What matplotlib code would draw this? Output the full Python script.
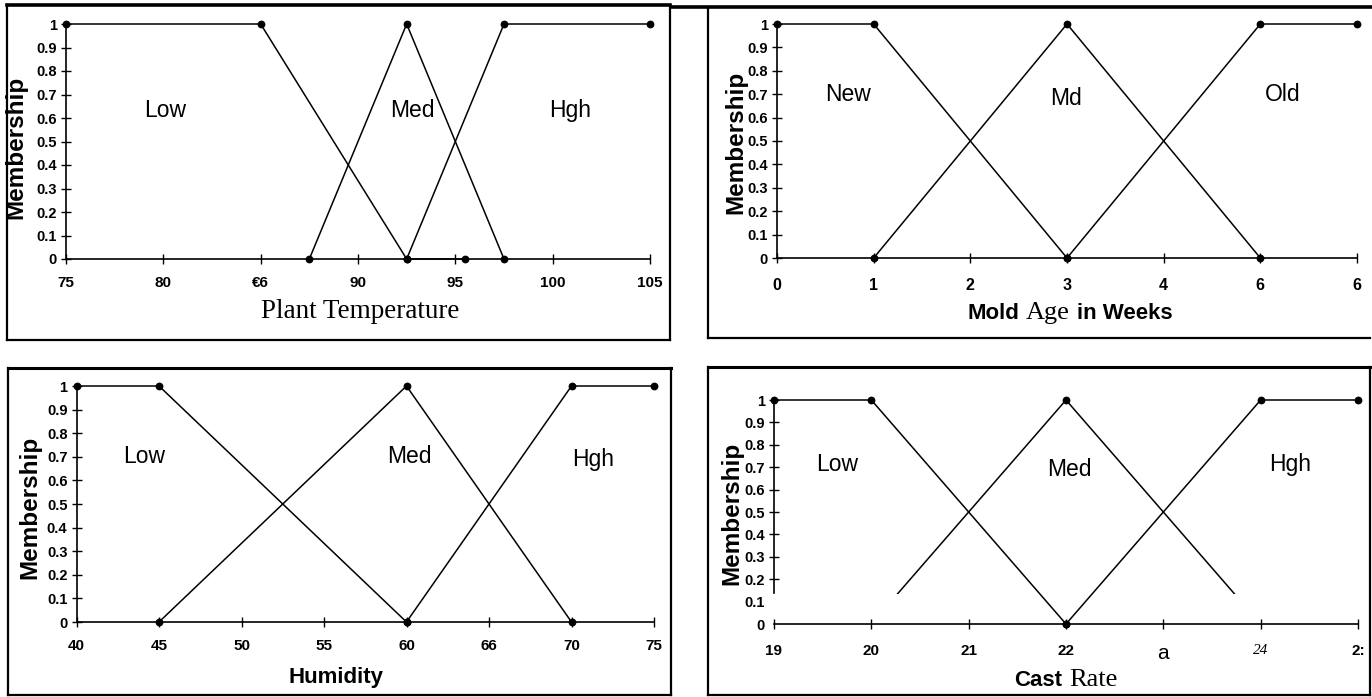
import matplotlib
matplotlib.use("Agg")
import matplotlib.pyplot as plt
from matplotlib.patches import Rectangle
from matplotlib.lines import Line2D
from matplotlib.offsetbox import TextArea, HPacker, AnnotationBbox

W, H = 1372, 697

# data ###############################################################
memb_ticks = [0, 0.1, 0.2, 0.3, 0.4, 0.5, 0.6, 0.7, 0.8, 0.9, 1]
memb_labels = ['0', '0.1', '0.2', '0.3', '0.4', '0.5', '0.6', '0.7', '0.8', '0.9', '1']

# plant temperature
temp_ticks = [75, 80, 85, 90, 95, 100, 105]
temp_ticklabels = ['75', '80', '€6', '90', '95', '100', '105']
temp_low_x = [75, 85, 92.5, 95.5]
temp_low_y = [1, 1, 0, 0]
temp_med_x = [87.5, 92.5, 97.5]
temp_med_y = [0, 1, 0]
temp_high_x = [92.5, 97.5, 105]
temp_high_y = [0, 1, 1]
temp_names = ['Low', 'Med', 'Hgh']

# mold age
age_ticks = [0, 1, 2, 3, 4, 5, 6]
age_ticklabels = ['0', '1', '2', '3', '4', '6', '6']
age_new_x = [0, 1, 3]
age_new_y = [1, 1, 0]
age_mid_x = [1, 3, 5]
age_mid_y = [0, 1, 0]
age_old_x = [3, 5, 6]
age_old_y = [0, 1, 1]
age_names = ['New', 'Md', 'Old']

# humidity
hum_ticks = [40, 45, 50, 55, 60, 65, 70, 75]
hum_ticklabels = ['40', '45', '50', '55', '60', '66', '70', '75']
hum_low_x = [40, 45, 60]
hum_low_y = [1, 1, 0]
hum_med_x = [45, 60, 70]
hum_med_y = [0, 1, 0]
hum_high_x = [60, 70, 75]
hum_high_y = [0, 1, 1]
hum_names = ['Low', 'Med', 'Hgh']

# cast rate
cast_ticks = [19, 20, 21, 22, 23, 24, 25]
cast_ticklabels = ['19', '20', '21', '22', 'a', '24', '2:']
cast_low_x = [19, 20, 22]
cast_low_y = [1, 1, 0]
cast_med_x = [20, 22, 24]
cast_med_y = [0, 1, 0]
cast_high_x = [22, 24, 25]
cast_high_y = [0, 1, 1]
cast_names = ['Low', 'Med', 'Hgh']

NARROW = ['Liberation Sans Narrow', 'Liberation Sans', 'DejaVu Sans']
SANS = ['Liberation Sans', 'DejaVu Sans']
SERIF = ['Liberation Serif', 'DejaVu Serif']


def px_rect(l, t, r, b):
    return [l / W, 1 - b / H, (r - l) / W, (b - t) / H]


def fxy(x, y):
    return (x / W, 1 - y / H)


fig = plt.figure(figsize=(W / 100, H / 100), dpi=100)
fig.patch.set_facecolor('white')


def panel(rect, xlim, ticks, ticklabels, series, names, name_x, name_y,
          tickfam=NARROW, ticksize=11):
    ax = fig.add_axes(px_rect(*rect))
    lines = []
    for xs, ys in series:
        ln, = ax.plot(xs, ys, color='black', lw=1.1, marker='o', ms=4.6,
                      clip_on=False, zorder=3)
        lines.append(ln)
    ax.set_xlim(*xlim)
    ax.set_ylim(0, 1)
    ax.set_xticks(ticks)
    ax.set_xticklabels(ticklabels, family=tickfam, weight='bold', fontsize=ticksize)
    ax.set_yticks(memb_ticks)
    ax.set_yticklabels(memb_labels, family=NARROW, weight='bold', fontsize=10.5)
    ax.spines['top'].set_visible(False)
    ax.spines['right'].set_visible(False)
    for s in ['left', 'bottom']:
        ax.spines[s].set_linewidth(1.2)
    ax.tick_params(axis='both', direction='inout', length=7, width=1.0)
    ax.tick_params(axis='x', pad=9)
    ax.tick_params(axis='y', pad=3)
    for nm, x, y in zip(names, name_x, name_y):
        ax.text(x, y, nm, ha='center', va='center', family=SANS, fontsize=16.5)
    return ax, lines


# top left: plant temperature
ax1, _ = panel((66, 24, 650, 259), (75, 105), temp_ticks, temp_ticklabels,
               [(temp_low_x, temp_low_y), (temp_med_x, temp_med_y), (temp_high_x, temp_high_y)],
               temp_names, [80.1, 92.8, 100.9], [0.63, 0.63, 0.63])

# top right: mold age
ax2, _ = panel((777, 24, 1357, 258), (0, 6), age_ticks, age_ticklabels,
               [(age_new_x, age_new_y), (age_mid_x, age_mid_y), (age_old_x, age_old_y)],
               age_names, [0.73, 2.99, 5.23], [0.70, 0.68, 0.70],
               tickfam=SANS, ticksize=11.5)
ax2.tick_params(axis='x', pad=11)

# bottom left: humidity
ax3, _ = panel((76.5, 386, 654, 622), (40, 75), hum_ticks, hum_ticklabels,
               [(hum_low_x, hum_low_y), (hum_med_x, hum_med_y), (hum_high_x, hum_high_y)],
               hum_names, [44.1, 60.15, 71.3], [0.70, 0.70, 0.69])

# bottom right: cast rate
ax4, lines4 = panel((774, 400, 1358, 624), (19, 25), cast_ticks, cast_ticklabels,
                    [(cast_low_x, cast_low_y), (cast_med_x, cast_med_y), (cast_high_x, cast_high_y)],
                    cast_names, [19.65, 22.03, 24.3], [0.71, 0.69, 0.71])
ax4.tick_params(axis='x', pad=11)
# scan damage: lower part of the Med curve and the axis is missing
clip = Rectangle((18, 0.135), 8, 1.2, transform=ax4.transData)
lines4[1].set_clip_on(True)
lines4[1].set_clip_path(clip)
ax4.spines['left'].set_bounds(0.14, 1)
ax4.yaxis.get_major_ticks()[1].tick1line.set_visible(False)
ax4.yaxis.get_major_ticks()[0].tick1line.set_visible(False)
for lab in ax4.get_xticklabels():
    if lab.get_text() == '24':
        lab.set_family(SERIF)
        lab.set_style('italic')
        lab.set_weight('normal')
    if lab.get_text() == 'a':
        lab.set_weight('normal')
        lab.set_fontsize(15)

# y labels
for x, y in [(16, 147), (736, 142), (30, 507), (732, 513)]:
    fig.text(*fxy(x, y), 'Membership', rotation=90, ha='center', va='center',
             family=SANS, weight='bold', fontsize=17.5)


# x labels (mixed fonts as in the scan)
def mixed_label(parts, x, y):
    areas = [TextArea(s, textprops=p) for s, p in parts]
    box = HPacker(children=areas, align='baseline', pad=0, sep=5)
    ab = AnnotationBbox(box, fxy(x, y), xycoords='figure fraction', frameon=False,
                        box_alignment=(0.5, 0.5), pad=0)
    fig.add_artist(ab)


bold_sans = dict(family=SANS, weight='bold', fontsize=16)
serif = dict(family=SERIF, fontsize=19)

fig.text(*fxy(360, 312), 'Plant Temperature', ha='center', va='center',
         family=SERIF, fontsize=19.5)
mixed_label([('Mold', bold_sans), ('Age', serif), ('in Weeks', bold_sans)], 1070, 313)
fig.text(*fxy(336, 678), 'Humidity', ha='center', va='center',
         family=SANS, weight='bold', fontsize=16)
mixed_label([('Cast', bold_sans), ('Rate', serif)], 1066, 680)


# panel frames
def seg(x0, y0, x1, y1, lw=1.6):
    fig.add_artist(Line2D([x0 / W, x1 / W], [1 - y0 / H, 1 - y1 / H],
                          transform=fig.transFigure, color='black', lw=lw))


seg(7, 5, 670, 5, 2.6)
seg(7, 5, 7, 340)
seg(670, 5, 670, 340)
seg(7, 340, 670, 340)

seg(672, 7, 1372, 7, 2.6)
seg(708, 7, 708, 338)
seg(708, 338, 1370, 338)

seg(8, 368, 671, 368, 2.2)
seg(8, 368, 8, 695)
seg(671, 368, 671, 695)
seg(8, 695, 671, 695)

seg(708, 367, 1370, 367, 2.2)
seg(708, 367, 708, 695)
seg(1370, 367, 1370, 695)
seg(708, 695, 1370, 695)

fig.savefig('out.png', dpi=100, facecolor='white')
